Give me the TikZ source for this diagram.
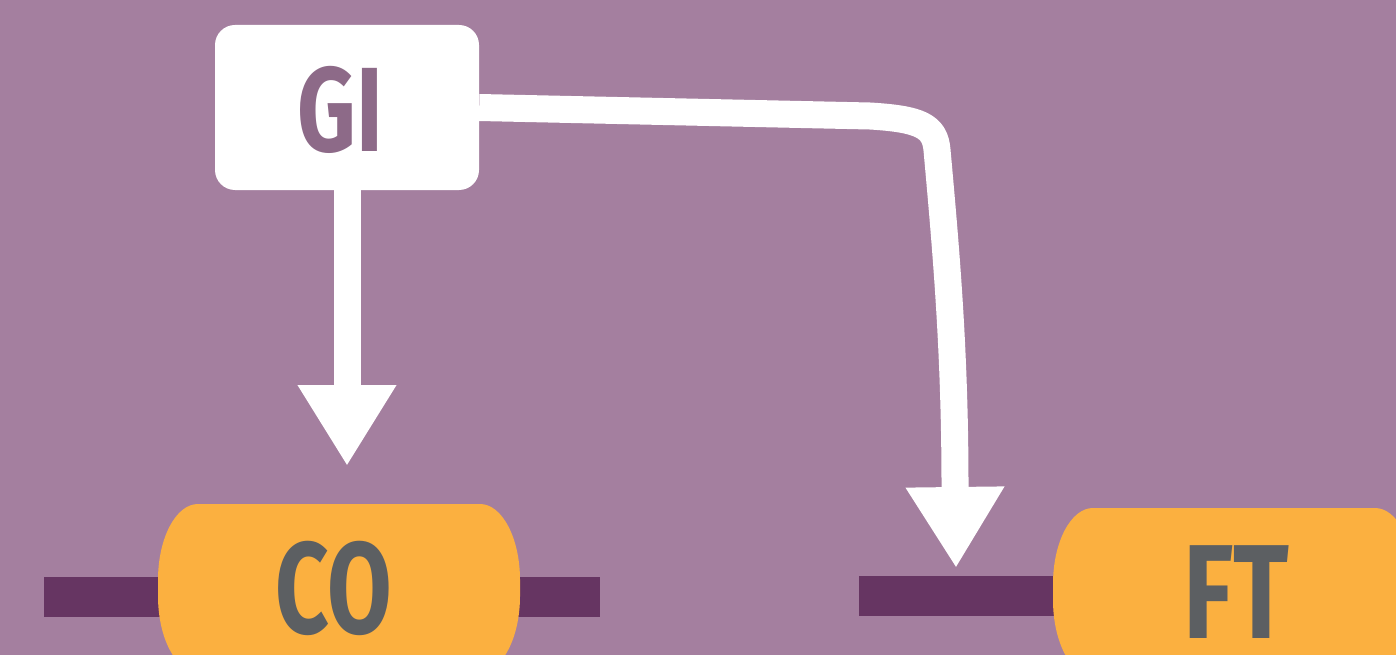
\documentclass[tikz,border=0pt]{standalone}
\usepackage{fontspec}
\setmainfont{Fira Sans}
\usetikzlibrary{arrows.meta}
\definecolor{bgpurple}{HTML}{A47F9F}
\definecolor{gitext}{HTML}{8D6A88}
\definecolor{boxorange}{HTML}{FBB040}
\definecolor{darkgray}{HTML}{5C5F62}
\definecolor{barpurple}{HTML}{663562}
\newcommand{\condtxt}[2]{\scalebox{#1}[1]{#2}}
\newcommand{\ellshape}[2]{%
  \fill[boxorange] ({#1-141},{#2-84}) -- ({#1+141},{#2-84})
    arc[start angle=90, end angle=0, x radius=40pt, y radius=76pt]
    -- ({#1+181},{#2+8})
    arc[start angle=0, end angle=-90, x radius=40pt, y radius=76pt]
    -- ({#1-141},{#2+84})
    arc[start angle=270, end angle=180, x radius=40pt, y radius=76pt]
    -- ({#1-181},{#2-8})
    arc[start angle=180, end angle=90, x radius=40pt, y radius=76pt]
    -- cycle;}
\tikzset{
  conn/.style={draw=white, line width=27pt, line join=round,
    -{Triangle[width=93pt,length=81pt]}},
  bar/.style={fill=barpurple},
  gibox/.style={fill=white, rounded corners=20pt, minimum width=264pt,
    minimum height=165pt, inner sep=0pt},
  gitxt/.style={inner sep=0pt, text=gitext,
    font=\fontsize{120}{120}\selectfont\bfseries},
  boxtxt/.style={inner sep=0pt, text=darkgray,
    font=\fontsize{130}{130}\selectfont\bfseries},
}
\begin{document}
\begin{tikzpicture}[x=1pt, y=-1pt]
\useasboundingbox (0,0) rectangle (1396,655);
\clip (0,0) rectangle (1396,655);
\fill[bgpurple] (0,0) rectangle (1396,655);
% bars
\fill[bar] (44,577) rectangle (600,617);
\fill[bar] (859,576) rectangle (1070,616);
% boxes
\node[gibox] (GI) at (347,107.5) {};
\node[gitxt] (GItext) at (340,110) {\condtxt{0.76}{GI}};
\ellshape{339}{588}
\ellshape{1234}{592}
\node[boxtxt] (CO) at (334,588) {\condtxt{0.72}{CO}};
\node[boxtxt, font=\fontsize{134}{134}\selectfont\bfseries] (FT) at (1236,592) {\condtxt{0.77}{FT}};
% connectors
\coordinate (tipA) at (347,466);
\coordinate (tipB) at (956,568);
\draw[conn] (GI.south) -- (tipA);
\draw[conn] (GI.east) -- (870,116)
  .. controls (920,119) and (935,126) .. (937,150)
  .. controls (946,250) and (955,350) .. (955,487) -- (tipB);
\end{tikzpicture}
\end{document}
